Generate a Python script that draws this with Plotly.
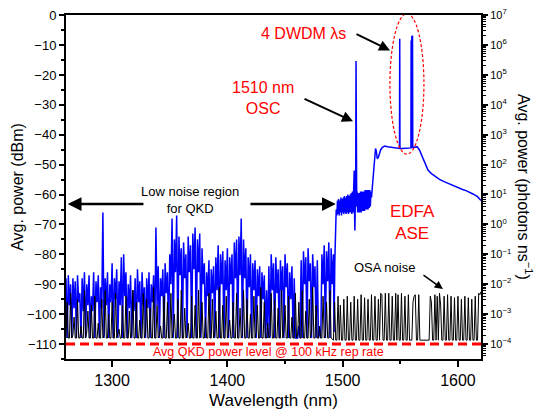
import numpy as np
import plotly.graph_objects as go

# ---------------- data ----------------
# Blue spectrum, low-noise region (1-nm sampling starting at 1260 nm), dBm
blue_noise_start_nm = 1260
blue_noise_dbm = [
    -88, -108, -87, -97, -90, -108, -88, -98, -89, -108, -87, -96, -93, -108, -88, -99,
    -86, -108, -90, -97, -87, -108, -94, -99, -86, -108, -89, -96, -87, -108, -91, -98,
    -66, -108, -88, -97, -86, -108, -90, -96, -83, -108, -88, -95, -85, -108, -89, -97,
    -81, -108, -80, -94, -86, -108, -90, -98, -87, -108, -92, -99, -88, -108, -85, -96,
    -89, -108, -86, -97, -91, -108, -88, -98, -86, -108, -90, -96, -87, -108, -71, -97,
    -84, -108, -88, -94, -85, -108, -83, -93, -86, -108, -80, -90, -68, -108, -75, -86,
    -67, -108, -74, -87, -78, -108, -76, -88, -80, -108, -74, -86, -77, -108, -73, -85,
    -71, -108, -75, -86, -73, -108, -78, -90, -83, -108, -86, -94, -82, -108, -85, -93,
    -84, -108, -81, -92, -77, -108, -80, -90, -79, -108, -82, -92, -78, -108, -81, -90,
    -80, -108, -76, -88, -75, -108, -74, -87, -68, -108, -75, -88, -78, -108, -81, -91,
    -80, -108, -83, -92, -82, -108, -85, -94, -84, -108, -86, -95, -87, -108, -92, -108,
    -84, -108, -80, -92, -83, -108, -81, -93, -85, -108, -82, -92, -84, -108, -80, -91,
    -83, -108, -86, -95, -84, -108, -88, -108, -108, -108, -104, -108, -82, -108, -79, -90,
    -81, -108, -78, -89, -83, -108, -80, -91, -84, -108, -82, -108, -105, -108, -80, -90,
    -77, -108, -79, -89, -76, -108, -78, -90, -80,
]

# Blue spectrum, EDFA ASE / OSC / DWDM part (wavelength nm, dBm)
ase_wl = [
    1492.5, 1493.2, 1493.8, 1494.4,
    1495.0, 1495.5, 1496.0, 1496.5, 1497.0, 1497.5, 1498.0, 1498.5, 1499.0, 1499.5,
    1500.0, 1500.5, 1501.0, 1501.5, 1502.0, 1502.5, 1503.0, 1503.5, 1504.0, 1504.5,
    1505.0, 1505.5, 1506.0, 1506.5, 1507.0, 1507.5, 1508.0, 1508.5, 1509.0, 1509.5,
    1510.0, 1510.3, 1510.6, 1510.9, 1511.3, 1511.6, 1511.9, 1512.2, 1512.5,
    1513.0, 1513.5, 1514.0, 1514.5, 1515.0, 1515.5, 1516.0, 1516.5, 1517.0, 1517.5,
    1518.0, 1518.5, 1519.0, 1519.5, 1520.0, 1520.5, 1521.0, 1521.5, 1522.0, 1522.5,
    1523.0, 1523.5, 1524.0, 1524.5, 1525.0,
    1526.0, 1527.0, 1527.8, 1528.5, 1529.2, 1530.0, 1531.0, 1532.0, 1533.0, 1534.5,
    1536.5, 1539.0, 1542.0, 1545.0, 1548.0, 1549.3, 1549.5, 1549.7, 1552.0, 1555.0,
    1559.2, 1559.4, 1559.6, 1559.8, 1560.0, 1560.2, 1560.4, 1560.6, 1560.8,
    1562.5, 1564.5, 1566.5, 1568.0, 1570.0, 1572.0, 1574.0, 1577.0, 1580.0, 1584.0,
    1588.0, 1592.0, 1595.5, 1600.0, 1604.0, 1607.0, 1610.0, 1613.0, 1617.0, 1620.0,
]
ase_dbm = [
    -106, -82, -70, -65,
    -67, -62, -66.5, -61.5, -67, -62, -66, -61, -67, -61.5,
    -66, -61, -66.5, -60.5, -66, -61, -66.5, -60.5, -66, -60,
    -66.5, -60.5, -66, -60, -66, -59.5, -66.5, -59, -66, -58,
    -52, -66, -72, -64, -58, -15.3, -58, -64, -59,
    -66, -59.5, -66, -59.5, -66, -59, -66, -59, -65.5, -59,
    -65.5, -59, -65.5, -58.5, -65, -58.5, -65, -58.5, -65, -58.5,
    -64.5, -58.5, -64, -59, -61,
    -56, -50, -46, -44.6, -45.5, -48, -47.5, -46, -45, -44.2,
    -43.8, -44.0, -44.2, -44.3, -44.5, -44.6, -7.9, -44.6, -44.6, -44.5,
    -44.4, -8.5, -44.4, -44.3, -7.0, -44.3, -44.3, -6.8, -44.2,
    -44.2, -44.0, -45.0, -46.3, -48.3, -50.3, -51.8, -53.0, -53.9, -54.9,
    -55.7, -56.4, -57.0, -57.7, -58.3, -58.7, -59.2, -59.8, -60.7, -62.0,
]

# Black OSA noise floor trace (1-nm sampling), dBm
osa_left_start_nm = 1260
osa_left_dbm = [
    -108, -96, -108, -108, -93, -108, -107, -101, -108, -108, -95, -108, -108, -104, -108, -108, -92, -108, -106, -99, -108, -108, -97, -108,
    -108, -94, -108, -108, -103, -108, -108, -95, -108, -107, -92, -108, -108, -100, -108, -108, -96, -108, -108, -93, -108, -106, -105, -108,
    -108, -97, -108, -108, -94, -108, -108, -99, -108, -107, -92, -108, -108, -96, -108, -108, -102, -108, -108, -93, -108, -106, -95, -108,
    -108, -98, -108, -108, -91, -108, -108, -97, -108, -107, -104, -108, -108, -94, -108, -108, -96, -108, -108, -93, -108, -106, -100, -108,
    -108, -95, -108, -108, -92, -108, -108, -98, -108, -107, -103, -108, -108, -94, -108, -108, -97, -108, -108, -92, -108, -106, -96, -108,
    -108, -101, -108, -108, -93, -108, -108, -95, -108, -107, -99, -108, -108, -91, -108, -108, -97, -108, -108, -94, -108, -106, -102, -108,
    -108, -96, -108, -108, -93, -108, -108, -98, -108, -107, -92, -108, -108, -95, -108, -108, -100, -108, -108, -94, -108, -106, -97, -108,
    -108, -91, -108, -108, -96, -108, -108, -103, -108, -107, -93, -108, -108, -95, -108, -108, -98, -108, -108, -92, -108, -106, -97, -108,
    -108, -94, -108, -108, -101, -108, -108, -93, -108, -107, -96, -108, -108, -92, -108, -108, -99, -108, -108, -95, -108, -106, -91, -108,
    -108, -97, -108, -108, -104, -108, -108, -94, -108, -107, -96, -108, -108, -92, -108,
]
osa_right_start_nm = 1492
osa_right_dbm = [
    -108.7, -96, -108.7, -108.7, -94, -108.7, -97, -108.7, -108.7, -95,
    -108.7, -108.7, -94, -108.7, -108.7, -96, -108.7, -108.7, -94, -108.7,
    -108.7, -95, -108.7, -108.7, -93.5, -108.7, -108.7, -94.5, -108.7, -108.7,
    -95, -108.7, -108.7, -93.5, -108.7, -108.7, -94, -108.7, -108.7, -95,
    -108.7, -93, -93.5, -108.7, -108.7, -93, -108.7, -108.7, -93, -108.7,
    -108.7, -94, -108.7, -108.7, -93, -108.7, -93.5, -108.7, -108.7, -93,
    -108.7, -108.7, -94, -108.7, -108.7, -93.5, -108.7, -108.7, -108.7, -96,
    -94, -93.5, -108.7, -108.7, -93.5, -108.7, -108.7, -108.7, -108.7, -108.7,
    -108.7, -108.7, -108.7, -108.7, -94, -96, -108.7, -108.7, -93.5, -108.7,
    -94, -108.7, -93, -97, -108.7, -108.7, -94, -108.7, -108.7, -93.5,
    -108.7, -108.7, -94, -108.7, -108.7, -94.5, -108.7, -108.7, -94, -108.7,
    -108.7, -95, -108.7, -108.7, -94, -108.7, -108.7, -94.5, -108.7, -108.7,
    -95, -108.7, -108.7, -94, -108.7, -108.7, -93, -93.5, -92.5,
]

# Average QKD power level (photons per ns) at 100 kHz rep rate
qkd_wl = [1260, 1620]
qkd_photons = [1e-4, 1e-4]

# right axis decades
right_exponents = [-4, -3, -2, -1, 0, 1, 2, 3, 4, 5, 6, 7]

# ---------------- figure ----------------
FONT = "Liberation Sans, Arial, sans-serif"

blue_x = list(blue_noise_start_nm + np.arange(len(blue_noise_dbm))) + ase_wl
blue_y = blue_noise_dbm + ase_dbm
osa_x = list(osa_left_start_nm + np.arange(len(osa_left_dbm))) + \
        list(osa_right_start_nm + np.arange(len(osa_right_dbm)))
osa_y = osa_left_dbm + osa_right_dbm

fig = go.Figure()
fig.add_trace(go.Scatter(x=blue_x, y=blue_y, mode="lines",
                         line=dict(color="#0000ff", width=1.5), showlegend=False,
                         hoverinfo="skip"))
fig.add_trace(go.Scatter(x=osa_x, y=osa_y, mode="lines",
                         line=dict(color="#000000", width=1), showlegend=False,
                         hoverinfo="skip"))
fig.add_trace(go.Scatter(x=qkd_wl, y=qkd_photons, mode="lines", yaxis="y2",
                         line=dict(color="#ff0000", width=3, dash="9px,5px"),
                         showlegend=False, hoverinfo="skip"))

minor_vals = [m * 10.0 ** e for e in range(-5, 7) for m in range(2, 10)]

fig.update_layout(
    template="none",
    width=537, height=414,
    margin=dict(l=66, r=56, t=15, b=55),
    paper_bgcolor="white", plot_bgcolor="white",
    font=dict(family=FONT, color="black"),
    xaxis=dict(
        range=[1260, 1620], dtick=100, tick0=1300, automargin=False,
        showline=True, linewidth=2, linecolor="black", mirror=True,
        ticks="outside", ticklen=6, tickwidth=1.5, tickcolor="black",
        minor=dict(dtick=50, tick0=1300, ticks="outside", ticklen=3, tickwidth=1.5, tickcolor="black"),
        showgrid=False, zeroline=False,
        tickfont=dict(size=16),
        title=dict(text="Wavelength (nm)", font=dict(size=17), standoff=6),
    ),
    yaxis=dict(
        range=[-115, 0.05], dtick=10, tick0=0, automargin=False,
        showline=True, linewidth=2, linecolor="black",
        ticks="outside", ticklen=5, tickwidth=1.5, tickcolor="black",
        minor=dict(dtick=5, tick0=0, ticks="outside", ticklen=3, tickwidth=1.5, tickcolor="black"),
        showgrid=False, zeroline=False,
        tickfont=dict(size=13),
        title=dict(text="Avg. power (dBm)", font=dict(size=16), standoff=0),
    ),
    yaxis2=dict(
        overlaying="y", side="right", type="log", range=[-4.5, 7], automargin=False,
        tickmode="array",
        tickvals=[10.0 ** e for e in right_exponents],
        ticktext=["10<sup>%s</sup>" % (str(e).replace("-", "\u2212")) for e in right_exponents],
        showline=True, linewidth=2, linecolor="black",
        ticks="outside", ticklen=5, tickwidth=1.5, tickcolor="black",
        minor=dict(tickmode="array", tickvals=minor_vals, ticks="outside", ticklen=3,
                   tickwidth=1, tickcolor="black"),
        showgrid=False, zeroline=False,
        tickfont=dict(size=11),
    ),
)

RED = "#ff0000"
annots = [
    dict(x=1465.6, y=-6.1, text="4 DWDM \u03bbs", font=dict(size=16, color=RED)),
    dict(x=1431.3, y=-27.6, text="1510 nm<br>OSC", font=dict(size=16, color=RED)),
    dict(x=1367.6, y=-61.8, text="Low noise region<br>for QKD", font=dict(size=13, color="black")),
    dict(x=1561, y=-69.2, text="EDFA<br>ASE", font=dict(size=17, color=RED)),
    dict(x=1536.4, y=-84.5, text="OSA noise", font=dict(size=13, color="black")),
    dict(x=1435.7, y=-112.6, text="Avg QKD power level @ 100 kHz rep rate",
         font=dict(size=12.5, color=RED)),
]
for a in annots:
    fig.add_annotation(xref="x", yref="y", showarrow=False, **a)

arrows = [
    (1510.7, -6.1, 1541.1, -11.8, 2),
    (1465.6, -27.8, 1509.0, -35.5, 2),
    (1328.5, -63.2, 1261.5, -63.2, 2.5),
    (1418.7, -63.2, 1494.0, -63.2, 2.5),
    (1568.8, -86.6, 1587.0, -91.6, 1.5),
]
for tx, ty, hx, hy, w in arrows:
    fig.add_annotation(x=hx, y=hy, ax=tx, ay=ty, xref="x", yref="y", axref="x", ayref="y",
                       text="", showarrow=True, arrowhead=2, arrowsize=1.1,
                       arrowwidth=w, arrowcolor="black", standoff=0)

# right axis title reading top-to-bottom
fig.add_annotation(xref="paper", yref="paper", x=1.0, y=0.5, xshift=44,
                   xanchor="center", yanchor="middle",
                   text="Avg. power (photons ns<sup>\u22121</sup>)", textangle=90,
                   showarrow=False, font=dict(size=16, color="black"))

# dashed ellipse around DWDM channels
fig.add_shape(type="circle", xref="x", yref="y", x0=1541, x1=1570.5, y0=-46.5, y1=0.5,
              line=dict(color=RED, width=1.2, dash="3px,2px"))

fig.write_html("out.html", config={"displayModeBar": False},
               post_script="document.body.style.margin='0';document.body.style.padding='0';")
